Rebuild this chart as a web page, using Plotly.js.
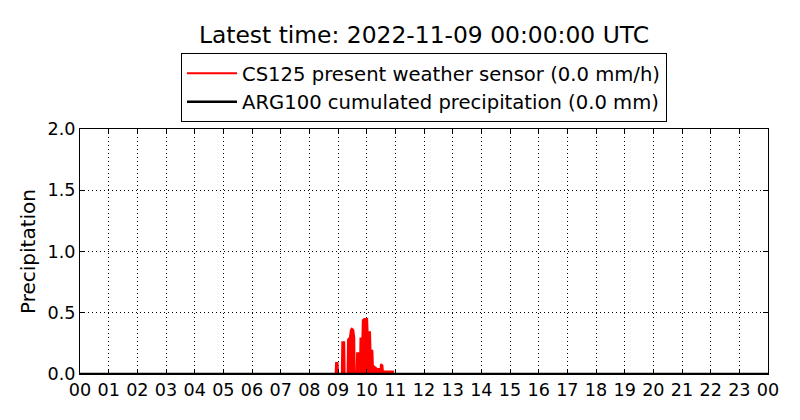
<!DOCTYPE html>
<html>
<head>
<meta charset="utf-8">
<script src="https://cdn.plot.ly/plotly-3.0.1.min.js"></script>
<style>html,body{margin:0;padding:0;background:#fff;}#chart{width:800px;height:420px;}</style>
</head>
<body>
<div id="chart"></div>
<script>
// Minutes since 00:00 UTC on 2022-11-08
const cs125Minutes = [0, 535, 536, 539, 540, 548, 549, 553, 554, 560, 561, 565, 567, 569, 572, 574, 575, 579, 580, 585, 586, 587, 591, 592, 595, 601, 602, 607, 608, 612, 613, 616, 618, 622, 627, 629, 630, 633, 634, 640, 650, 655, 656, 1440];
const cs125Values  = [0, 0,   0.09,0.09,0,   0,   0.26,0.26,0,   0,   0.28,0.30,0.36,0.37,0.36,0.30,0,   0,   0.17,0.17,0,   0.29,0.29,0.44,0.45,0.45,0.34,0.34,0.20,0.19,0.07,0.06,0.05,0.04,0.04,0.03,0.08,0.07,0.02,0.02,0.02,0.02,0,   0];
const arg100Minutes = [0, 1440];
const arg100Values  = [0, 0];
const tickMinutes = [0,60,120,180,240,300,360,420,480,540,600,660,720,780,840,900,960,1020,1080,1140,1200,1260,1320,1380,1440];
const tickLabels  = ['00','01','02','03','04','05','06','07','08','09','10','11','12','13','14','15','16','17','18','19','20','21','22','23','00'];
const yTicks = [0, 0.5, 1.0, 1.5, 2.0];

const FONT = 'DejaVu Sans, sans-serif';
const traces = [
  {x: cs125Minutes, y: cs125Values, type: 'scatter', mode: 'lines', showlegend: false, hoverinfo: 'skip',
   line: {color: '#ff0000', width: 0}, fill: 'tozeroy', fillcolor: '#ff0000'},
  {x: cs125Minutes, y: cs125Values, type: 'scatter', mode: 'lines',
   name: 'CS125 present weather sensor (0.0 mm/h)',
   line: {color: '#ff0000', width: 2}},
  {x: arg100Minutes, y: arg100Values, type: 'scatter', mode: 'lines',
   name: 'ARG100 cumulated precipitation (0.0 mm)',
   line: {color: '#000000', width: 2.5}}
];
const axisCommon = {
  showline: true, linecolor: '#000', linewidth: 1, mirror: 'ticks',
  ticks: 'inside', ticklen: 5, tickcolor: '#000', tickwidth: 1,
  showgrid: true, gridcolor: '#000', gridwidth: 1, griddash: '1px,3px',
  zeroline: false, tickfont: {family: FONT, size: 17.6, color: '#000'}
};
const layout = {
  width: 800, height: 420,
  margin: {l: 80, r: 32, t: 129, b: 46},
  paper_bgcolor: '#fff', plot_bgcolor: '#fff',
  font: {family: FONT, color: '#000'},
  title: {text: 'Latest time: 2022-11-09 00:00:00 UTC', font: {family: FONT, size: 23.4, color: '#000'},
          x: 0.5, xref: 'paper', xanchor: 'center', y: 0.917, yref: 'container', yanchor: 'middle'},
  xaxis: Object.assign({}, axisCommon, {range: [0, 1440], tickmode: 'array', tickvals: tickMinutes, ticktext: tickLabels}),
  yaxis: Object.assign({}, axisCommon, {range: [0, 2], tickmode: 'array', tickvals: yTicks, tickformat: '.1f',
          title: {text: 'Precipitation', font: {family: FONT, size: 20, color: '#000'}, standoff: 6}}),
  showlegend: true,
  legend: {x: 0.5, xanchor: 'center', y: 1.31, yanchor: 'top', bgcolor: '#fff',
           bordercolor: '#000', borderwidth: 1, font: {family: FONT, size: 19.6, color: '#000'},
           tracegroupgap: 0, itemwidth: 50}
};
Plotly.newPlot('chart', traces, layout, {staticPlot: true, displayModeBar: false});
</script>
</body>
</html>
